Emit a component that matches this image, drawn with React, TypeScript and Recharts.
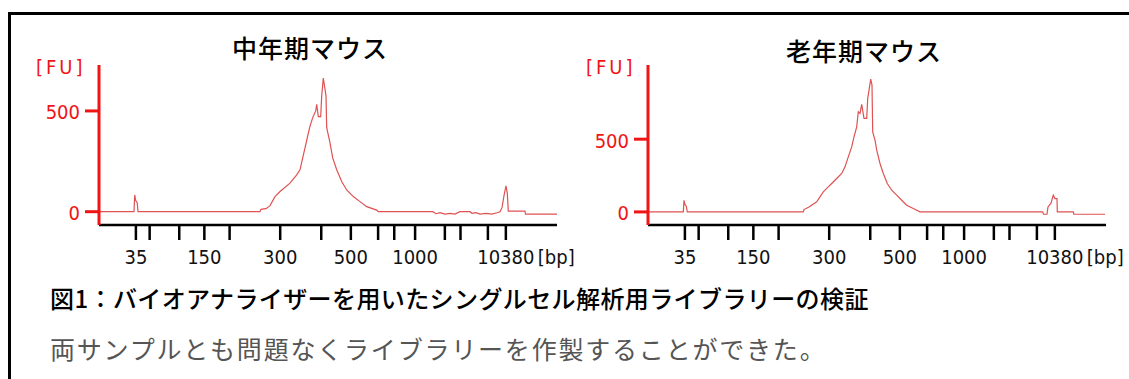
import React from "react";
import { LineChart, Line, XAxis, YAxis } from "recharts";

// migration time (s) of the ladder fragments
const ladderBp = [35, 50, 100, 150, 200, 300, 400, 500, 600, 700, 1000, 2000, 3000, 7000, 10380];
const ladderTime = [27.38, 30.13, 36.05, 41.07, 46.12, 56.24, 64.45, 70.37, 75.82, 79.05, 83.22, 89.17, 92.3, 97.78, 101.37];
const labeledBp = [35, 150, 300, 500, 1000, 10380];

// 中年期マウス
const midTime = [
  20.0, 27.0, 27.14, 27.34, 27.64, 27.8, 52.2, 52.4, 53.4, 54.2, 55.2, 56.2, 58.2, 59.54, 60.2, 60.74,
  61.2, 61.66, 62.2, 62.74, 63.34, 63.54, 63.86, 64.34, 64.54, 64.86, 65.2, 65.4, 65.54, 66.2, 66.74,
  67.54, 68.54, 69.54, 70.86, 72.2, 73.54, 75.54, 75.86, 86.8, 87.4, 88.2, 89.2, 90.2, 91.2, 92.2,
  94.2, 94.6, 95.4, 96.2, 97.4, 98.6, 99.6, 100.2, 100.6, 101.0, 101.4, 101.66, 101.86, 105.2, 105.3, 111.6,
];
const midFU = [
  0, 0, 83, 55, 45, 0, 0, 12, 15, 30, 75, 100, 142, 183, 208, 267,
  317, 367, 425, 467, 500, 533, 472, 472, 575, 663, 608, 575, 417, 342, 267,
  208, 150, 108, 75, 50, 25, 8, 0, 0, -10, -5, -12, -8, -12, 0,
  0, -8, -5, -12, -8, -12, -5, 0, 20, 80, 128, 92, 3, 3, -12, -12,
];

// 老年期マウス
const oldTime = [
  20.0, 27.06, 27.2, 27.4, 27.66, 27.86, 51.06, 51.2, 52.2, 53.74, 55.06, 56.06, 56.74, 57.74, 58.74,
  59.4, 60.06, 60.74, 61.2, 61.74, 62.06, 62.4, 62.74, 63.2, 63.74, 63.94, 64.26, 64.54, 64.8, 64.94,
  65.4, 65.74, 66.4, 67.06, 67.86, 68.74, 69.74, 70.74, 71.74, 73.06, 74.4, 98.94, 99.1, 99.8, 100.0,
  100.6, 101.06, 101.4, 101.8, 101.86, 105.06, 105.16, 111.4,
];
const oldFU = [
  0, 0, 80, 50, 39, 0, 0, 16, 34, 69, 138, 172, 195, 230, 264,
  310, 378, 447, 516, 585, 688, 677, 739, 643, 643, 780, 849, 913, 872, 550,
  493, 425, 333, 264, 195, 149, 115, 80, 46, 23, 0, 0, -16, -16, 34,
  60, 115, 92, 92, 0, 0, -16, -16,
];

const RED = "#f01414";
const TRACE = "#e05252";
const AXIS_FONT = "'DejaVu Sans Condensed', 'Liberation Sans', sans-serif";
const JP_FONT = "'Noto Sans CJK JP', sans-serif";

const toRows = (times: number[], fu: number[]) => times.map((t, i) => ({ t, fu: fu[i] }));

const XTick = ({ x, y, payload }: any) => {
  const i = ladderTime.indexOf(payload.value);
  const bp = ladderBp[i];
  if (!labeledBp.includes(bp)) return <g />;
  const last = i === ladderBp.length - 1;
  return (
    <g>
      <text x={x} y={y + 22} textAnchor="middle" fontSize={20} fontFamily={AXIS_FONT} fill="#111">
        {bp}
      </text>
      {last && (
        <text x={x + 32} y={y + 22} textAnchor="start" fontSize={20} fontFamily={AXIS_FONT} fill="#111">
          [bp]
        </text>
      )}
    </g>
  );
};

const YTick = ({ x, y, payload }: any) => (
  <text x={x} y={y} dy="0.42em" textAnchor="end" fontSize={20} fontFamily={AXIS_FONT} fill={RED}>
    {payload.value}
  </text>
);

function Electropherogram({ times, fu, domain, left }: { times: number[]; fu: number[]; domain: number[]; left: number }) {
  return (
    <div style={{ position: "absolute", left, top: 0 }}>
      <LineChart width={595} height={280} data={toRows(times, fu)} margin={{ top: 65, right: 38, left: 39, bottom: 0 }}>
        <XAxis
          type="number"
          dataKey="t"
          domain={[20, 111.6]}
          ticks={ladderTime}
          interval={0}
          height={55}
          tickSize={15}
          tickMargin={2}
          axisLine={{ stroke: "#000", strokeWidth: 2.5 }}
          tickLine={{ stroke: "#000", strokeWidth: 2.5 }}
          tick={<XTick />}
          allowDataOverflow
        />
        <YAxis
          type="number"
          domain={domain}
          ticks={[0, 500]}
          width={60}
          tickSize={14}
          tickMargin={5}
          axisLine={{ stroke: RED, strokeWidth: 3 }}
          tickLine={{ stroke: RED, strokeWidth: 3 }}
          tick={<YTick />}
          allowDataOverflow
        />
        <Line
          type="linear"
          dataKey="fu"
          stroke={TRACE}
          strokeWidth={1.2}
          dot={false}
          activeDot={false}
          isAnimationActive={false}
        />
      </LineChart>
    </div>
  );
}

const abs = (s: React.CSSProperties): React.CSSProperties => ({ position: "absolute", whiteSpace: "nowrap", ...s });

export default function App() {
  return (
    <div style={{ position: "absolute", left: 0, top: 0, width: 1129, height: 379, overflow: "hidden", background: "#fff" }}>
      <div style={abs({ left: 8, top: 12, width: 1200, height: 400, borderTop: "3px solid #000", borderLeft: "3px solid #000" })} />

      <Electropherogram times={midTime} fu={midFU} domain={[-66, 728]} left={0} />
      <Electropherogram times={oldTime} fu={oldFU} domain={[-90, 1010]} left={549} />

      <div style={abs({ left: 160, top: 32, width: 300, textAlign: "center", fontFamily: JP_FONT, fontSize: 25, fontWeight: 500, letterSpacing: 1, lineHeight: "30px", color: "#000" })}>
        中年期マウス
      </div>
      <div style={abs({ left: 714, top: 35, width: 300, textAlign: "center", fontFamily: JP_FONT, fontSize: 25, fontWeight: 500, letterSpacing: 1, lineHeight: "30px", color: "#000" })}>
        老年期マウス
      </div>

      <div style={abs({ left: 36, top: 55, fontFamily: AXIS_FONT, fontSize: 20, letterSpacing: 3, lineHeight: "24px", color: RED })}>[FU]</div>
      <div style={abs({ left: 586, top: 55, fontFamily: AXIS_FONT, fontSize: 20, letterSpacing: 3, lineHeight: "24px", color: RED })}>[FU]</div>

      <div style={abs({ left: 50, top: 284, fontFamily: JP_FONT, fontSize: 24, fontWeight: 500, letterSpacing: 0.4, lineHeight: "28px", color: "#000" })}>
        図1：バイオアナライザーを用いたシングルセル解析用ライブラリーの検証
      </div>
      <div style={abs({ left: 50, top: 333, fontFamily: JP_FONT, fontSize: 25, fontWeight: 400, letterSpacing: 1.8, lineHeight: "30px", color: "#555" })}>
        両サンプルとも問題なくライブラリーを作製することができた。
      </div>
    </div>
  );
}
